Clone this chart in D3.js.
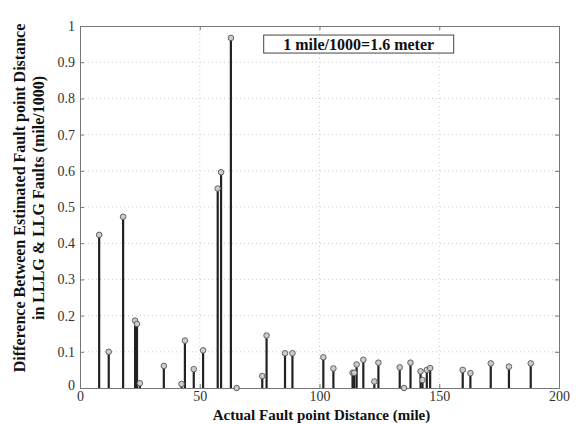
<!DOCTYPE html>
<html>
<head>
<meta charset="utf-8">
<script src="https://cdn.jsdelivr.net/npm/d3@7"></script>
<style>
  body { margin: 0; background: #fff; }
  svg text { font-family: "Liberation Serif", "Times New Roman", "DejaVu Serif", serif !important; }
</style>
</head>
<body>
<div id="main"></div>
<script>
// fault point distance (mile) and estimation error (mile/1000)
const distances = [8, 12, 18, 23, 23.8, 25, 35, 42.4, 43.8, 47.5, 51.4, 57.5, 58.9, 63, 65.4,
  76.1, 77.9, 85.6, 88.7, 101.6, 105.8, 113.8, 114.5, 115.5, 118.3, 122.9, 124.6,
  133.5, 135.3, 138, 142.2, 143, 144.8, 146.2, 159.8, 163, 171.5, 179.1, 188.2];
const errors = [0.423, 0.10, 0.473, 0.186, 0.177, 0.013, 0.061, 0.011, 0.131, 0.052, 0.104, 0.551, 0.596, 0.967, 0,
  0.033, 0.145, 0.096, 0.096, 0.085, 0.054, 0.042, 0.042, 0.065, 0.078, 0.018, 0.07,
  0.057, 0, 0.07, 0.046, 0.022, 0.05, 0.055, 0.05, 0.041, 0.068, 0.059, 0.068];
const xTicks = [0, 50, 100, 150, 200];
const yTicks = [0, 0.1, 0.2, 0.3, 0.4, 0.5, 0.6, 0.7, 0.8, 0.9, 1];

const data = distances.map((d, i) => ({dist: d, err: errors[i]}));

const margin = {top: 26, right: 18, bottom: 36, left: 80},
  W = 577, H = 424,
  width = W - margin.left - margin.right,
  height = H - margin.top - margin.bottom;

const svg = d3.select("#main").append("svg")
  .attr("width", W).attr("height", H)
  .attr("font-family", "'Liberation Serif', 'Times New Roman', 'DejaVu Serif', serif");

const g = svg.append("g")
  .attr("transform", `translate(${margin.left},${margin.top})`);

const x = d3.scaleLinear().domain([0, 200]).range([0, width]);
const y = d3.scaleLinear().domain([0, 1]).range([height, 0]);

// dotted grid
g.append("g").selectAll("line").data(yTicks.slice(1, -1)).join("line")
  .attr("x1", 0).attr("x2", width)
  .attr("y1", d => y(d)).attr("y2", d => y(d))
  .attr("stroke", "#ccc").attr("stroke-dasharray", "1,3");
g.append("g").selectAll("line").data(xTicks.slice(1, -1)).join("line")
  .attr("y1", 0).attr("y2", height)
  .attr("x1", d => x(d)).attr("x2", d => x(d))
  .attr("stroke", "#ccc").attr("stroke-dasharray", "1,3");

// axes, ticks inward
const xAxis = g.append("g").attr("transform", `translate(0,${height})`)
  .call(d3.axisBottom(x).tickValues(xTicks).tickSize(-4).tickPadding(3).tickFormat(d3.format("d")));
const yAxis = g.append("g")
  .call(d3.axisLeft(y).tickValues(yTicks).tickSize(-4).tickPadding(5)
    .tickFormat(d => d === 0 || d === 1 ? String(d) : d3.format(".1f")(d)));
g.append("g").call(d3.axisTop(x).tickValues(xTicks).tickSize(-4).tickFormat(""));
g.append("g").attr("transform", `translate(${width},0)`)
  .call(d3.axisRight(y).tickValues(yTicks).tickSize(-4).tickFormat(""));

g.selectAll("g").attr("font-family", null);
g.selectAll(".domain").attr("stroke", "#777");
g.selectAll(".tick line").attr("stroke", "#777");
[xAxis, yAxis].forEach(a => a.selectAll("text")
  .attr("font-size", 14).attr("fill", "#333"));
yAxis.selectAll(".tick text").filter(d => d === 0).attr("dy", "0.1em");

// stems
g.append("g").selectAll("line").data(data).join("line")
  .attr("x1", d => x(d.dist)).attr("x2", d => x(d.dist))
  .attr("y1", y(0)).attr("y2", d => y(d.err))
  .attr("stroke", "#222").attr("stroke-width", 2.2);

// markers
g.append("g").selectAll("circle").data(data).join("circle")
  .attr("cx", d => x(d.dist)).attr("cy", d => y(d.err))
  .attr("r", 2.8)
  .attr("fill", "#ccc").attr("stroke", "#555").attr("stroke-width", 0.9);

// note box
const note = g.append("g").attr("transform", `translate(${x(76.7)},${y(0.975)})`);
note.append("rect").attr("width", 190).attr("height", 18)
  .attr("fill", "#fff").attr("stroke", "#444").attr("stroke-width", 1);
note.append("text").attr("x", 95).attr("y", 14.5).attr("text-anchor", "middle")
  .attr("font-size", 16).attr("font-weight", "bold").attr("fill", "#111")
  .text("1 mile/1000=1.6 meter");

// axis labels
svg.append("text")
  .attr("x", margin.left + width / 2 + 2).attr("y", 420)
  .attr("text-anchor", "middle").attr("font-size", 15).attr("font-weight", "bold").attr("fill", "#111")
  .text("Actual Fault point Distance (mile)");

const yl = svg.append("text")
  .attr("transform", `translate(25,${198}) rotate(-90)`)
  .attr("text-anchor", "middle").attr("font-size", 16).attr("font-weight", "bold").attr("fill", "#111");
yl.append("tspan").attr("x", 0).attr("dy", 0).text("Difference Between Estimated Fault point Distance");
yl.append("tspan").attr("x", 0).attr("dy", 19).text("in LLLG & LLG Faults (mile/1000)");
</script>
</body>
</html>
